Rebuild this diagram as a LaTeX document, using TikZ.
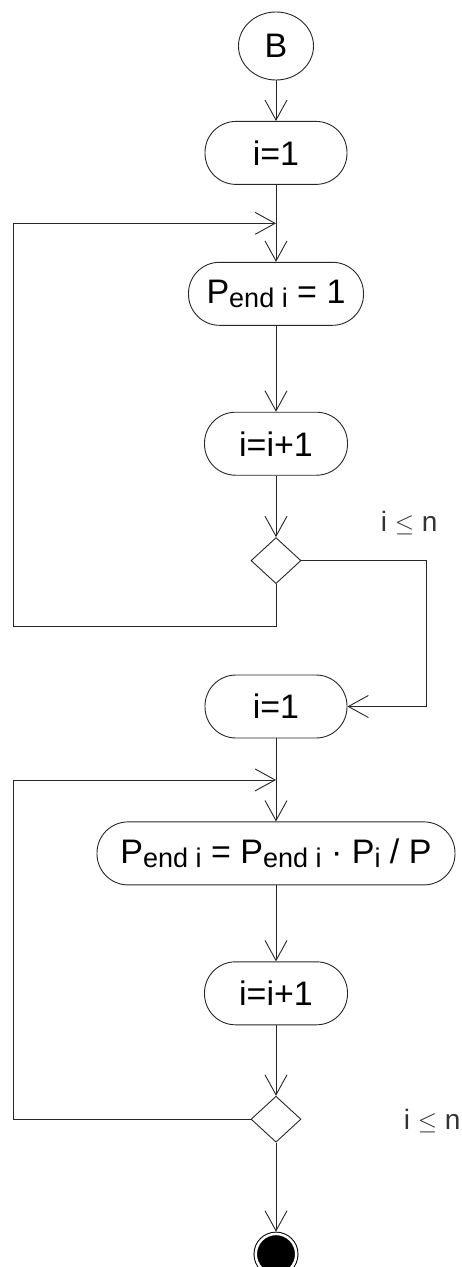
\documentclass[tikz,border=0pt]{standalone}
\usepackage{fontspec}
\setmainfont{Liberation Sans}
\usetikzlibrary{shapes.geometric,arrows.meta,positioning}
\newcommand{\lowsub}[1]{\raisebox{-4pt}{\fontsize{27}{27}\selectfont #1}}

\begin{document}
\begin{tikzpicture}[
        x=1pt, y=1pt,
        line width=0.9pt,
        action/.style={draw=black!85, rectangle, rounded corners=31pt, minimum height=63pt, inner xsep=6pt, inner ysep=0pt, font=\fontsize{34}{36}\selectfont},
        choice/.style={draw=black!85, diamond, minimum width=50pt, minimum height=46pt, inner sep=0pt},
        guard/.style={anchor=base west, text=black!80, font=\fontsize{28}{30}\selectfont},
        arrow/.style={draw=black!85, -{Straight Barb[length=20pt, width=22pt]}}
    ]
        \useasboundingbox (0,0) rectangle (461,-1267);

        \node[draw=black!85, ellipse, minimum width=75pt, minimum height=68pt, inner sep=0pt, font=\fontsize{34}{36}\selectfont] (start) at (276,-46) {B};
        \node[action, minimum width=142pt, below=40.5pt of start] (init1) {i=1};
        \node[action, minimum width=175pt, below=77pt of init1] (pend1) {P\lowsub{end i} = 1};
        \node[action, minimum width=143pt, below=86pt of pend1] (inc1) {i=i+1};
        \node[choice, below=61.5pt of inc1] (dec1) {};
        \node[action, minimum width=142pt, below=90.5pt of dec1] (init2) {i=1};
        \node[action, minimum width=358pt, below=83pt of init2] (upd) {P\lowsub{end i} = P\lowsub{end i} · P\lowsub{i} / P};
        \node[action, minimum width=143pt, below=76pt of upd] (inc2) {i=i+1};
        \node[choice, below=70.5pt of inc2] (dec2) {};
        \node[circle, draw=black, fill=black, double=white, double distance=2.5pt, line width=1pt, minimum size=40.5pt, inner sep=0pt, outer sep=2.25pt, below=89pt of dec2] (stop) {};

        \coordinate (join1) at ([yshift=-38.5pt]init1.south);
        \coordinate (join2) at ([yshift=-41.5pt]init2.south);

        \node[guard] (cond1) at (377,-531) {i $\leq$ n};
        \node[guard] (cond2) at (400,-1129) {i $\leq$ n};

        \draw[arrow] (start) -- (init1);
        \draw[arrow] (init1) -- (pend1);
        \draw[arrow] (pend1) -- (inc1);
        \draw[arrow] (inc1) -- (dec1);
        \draw[arrow] (dec1.south) -- ++(0,-42) -| ([xshift=-263pt]join1) -- (join1);
        \draw[arrow] (dec1.east) -- ++(125,0) |- (init2.east);
        \draw[arrow] (init2) -- (upd);
        \draw[arrow] (upd) -- (inc2);
        \draw[arrow] (inc2) -- (dec2);
        \draw[arrow] (dec2.west) -| ([xshift=-263pt]join2) -- (join2);
        \draw[arrow] (dec2) -- (stop);
    \end{tikzpicture}
\end{document}
